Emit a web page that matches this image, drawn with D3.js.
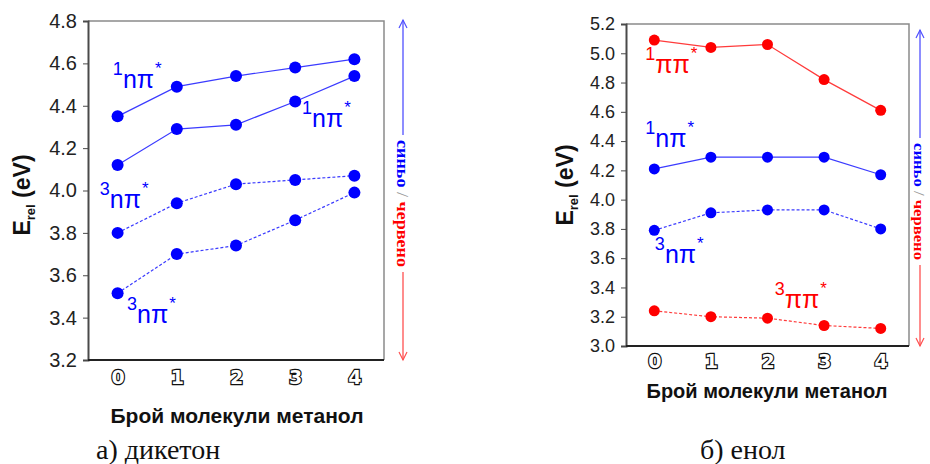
<!DOCTYPE html>
<html>
<head>
<meta charset="utf-8">
<script src="https://cdn.jsdelivr.net/npm/d3@7/dist/d3.min.js"></script>
<style>
  body { margin: 0; background: #fff; }
  svg { display: block; }
</style>
</head>
<body>
<svg id="chart" width="930" height="464"></svg>
<script>
// --- data ---
const molecules = [0, 1, 2, 3, 4];

// а) дикетон
const diketoneTicks = [3.2, 3.4, 3.6, 3.8, 4.0, 4.2, 4.4, 4.6, 4.8];
const diketoneS1upper = [4.35, 4.49, 4.54, 4.58, 4.62];
const diketoneS1lower = [4.12, 4.29, 4.31, 4.42, 4.54];
const diketoneT1upper = [3.80, 3.94, 4.03, 4.05, 4.07];
const diketoneT1lower = [3.515, 3.70, 3.74, 3.86, 3.99];

// б) енол
const enolTicks = [3.0, 3.2, 3.4, 3.6, 3.8, 4.0, 4.2, 4.4, 4.6, 4.8, 5.0, 5.2];
const enolS1pp = [5.09, 5.04, 5.06, 4.82, 4.61];
const enolS1np = [4.21, 4.29, 4.29, 4.29, 4.17];
const enolT1np = [3.79, 3.91, 3.93, 3.93, 3.80];
const enolT1pp = [3.24, 3.20, 3.19, 3.14, 3.12];

const xTitle = "Брой молекули метанол";

const BLUE = "#0000ff", BLUE_LINE = "#3b3bff";
const RED = "#ff0000", RED_LINE = "#ff3b3b";

const svg = d3.select("#chart");

function drawPanel(p) {
  const g = svg.append("g");
  const x = d3.scaleLinear().domain([-0.5, 4.5]).range([p.left, p.right]);
  const y = d3.scaleLinear().domain(p.domain).range([p.bottom, p.top]);

  // frame (top / right in light gray)
  g.append("path")
    .attr("d", `M${p.left},${p.top}H${p.right}V${p.bottom}`)
    .attr("fill", "none")
    .attr("stroke", "#8a8a8a")
    .attr("stroke-width", 1.5);

  // y axis
  const yAxis = d3.axisLeft(y)
    .tickValues(p.ticks)
    .tickSize(5)
    .tickPadding(6)
    .tickFormat(d3.format(".1f"));
  const ya = g.append("g")
    .attr("transform", `translate(${p.left},0)`)
    .call(yAxis);
  ya.select(".domain").attr("stroke", "#4a4a4a").attr("stroke-width", 2);
  ya.selectAll(".tick line").attr("stroke", "#4a4a4a");
  ya.selectAll(".tick text")
    .attr("font-family", "Arial, 'Liberation Sans', sans-serif")
    .attr("font-size", p.tickSize)
    .attr("fill", "#222");

  // x axis
  const xAxis = d3.axisBottom(x).tickValues(molecules).tickSize(0).tickPadding(p.xPad)
    .tickFormat(d3.format("d"));
  const xa = g.append("g")
    .attr("transform", `translate(0,${p.bottom})`)
    .call(xAxis);
  xa.select(".domain").attr("stroke", "#222").attr("stroke-width", 2)
    .attr("d", `M${p.left},0H${p.right}`);
  xa.selectAll(".tick text")
    .attr("font-family", "'DejaVu Sans', sans-serif")
    .attr("font-weight", "bold")
    .attr("font-size", 19)
    .attr("fill", "#fff")
    .attr("stroke", "#111")
    .attr("stroke-width", 2.4)
    .attr("paint-order", "stroke");

  // series
  const line = d3.line().x((d, i) => x(molecules[i])).y(d => y(d));
  p.series.forEach(s => {
    g.append("path")
      .datum(s.values)
      .attr("d", line)
      .attr("fill", "none")
      .attr("stroke", s.lineColor)
      .attr("stroke-width", 1.2)
      .attr("stroke-dasharray", s.dashed ? "3,2" : null);
    g.selectAll(null)
      .data(s.values)
      .join("circle")
      .attr("cx", (d, i) => x(molecules[i]))
      .attr("cy", d => y(d))
      .attr("r", p.r)
      .attr("fill", s.color);
  });

  // state labels
  p.labels.forEach(l => {
    const t = g.append("text")
      .attr("x", x(l.x))
      .attr("y", y(l.y))
      .attr("fill", l.color)
      .attr("font-family", "Arial, 'Liberation Sans', sans-serif");
    t.append("tspan").attr("font-size", 18).attr("dy", -13).text(l.mult);
    t.append("tspan").attr("font-size", 25).attr("dy", 13).text(l.orb);
    t.append("tspan").attr("font-size", 17).attr("dy", -14).attr("dx", 1).text("*");
  });

  // y axis title
  const yt = g.append("text")
    .attr("transform", `translate(${p.yTitleX},${p.yTitleY}) rotate(-90)`)
    .attr("text-anchor", "middle")
    .attr("font-family", "Arial, 'Liberation Sans', sans-serif")
    .attr("font-weight", "bold")
    .attr("font-size", 23)
    .attr("fill", "#111");
  yt.append("tspan").text("E");
  yt.append("tspan").attr("font-size", 13).attr("dy", 5).text("rel");
  yt.append("tspan").attr("dy", -5).text(" (eV)");

  // x axis title
  g.append("text")
    .attr("x", p.xTitleX)
    .attr("y", p.xTitleY)
    .attr("text-anchor", "middle")
    .attr("font-family", "Arial, 'Liberation Sans', sans-serif")
    .attr("font-weight", "bold")
    .attr("font-size", p.xTitleSize)
    .attr("fill", "#111")
    .text(xTitle);

  // caption
  g.append("text")
    .attr("x", p.captionX)
    .attr("y", 459)
    .attr("font-family", "'Liberation Serif', 'Times New Roman', serif")
    .attr("font-size", 28)
    .attr("fill", "#111")
    .text(p.caption);

  // colour arrow: blue up / red down
  const ax = p.arrowX;
  g.append("line").attr("x1", ax).attr("x2", ax)
    .attr("y1", p.arrowTop).attr("y2", p.textTop - 5)
    .attr("stroke", "#5050ff").attr("stroke-width", 1.3);
  g.append("path")
    .attr("d", `M${ax - 4},${p.arrowTop + 8}L${ax},${p.arrowTop}L${ax + 4},${p.arrowTop + 8}`)
    .attr("fill", "none").attr("stroke", "#5050ff").attr("stroke-width", 1.2);
  g.append("line").attr("x1", ax).attr("x2", ax)
    .attr("y1", p.textBottom + 5).attr("y2", p.arrowBottom)
    .attr("stroke", "#ff5050").attr("stroke-width", 1.3);
  g.append("path")
    .attr("d", `M${ax - 4},${p.arrowBottom - 8}L${ax},${p.arrowBottom}L${ax + 4},${p.arrowBottom - 8}`)
    .attr("fill", "none").attr("stroke", "#ff5050").attr("stroke-width", 1.2);

  const at = g.append("text")
    .attr("transform", `translate(${ax - 6},${(p.textTop + p.textBottom) / 2}) rotate(90)`)
    .attr("text-anchor", "middle")
    .attr("font-family", "'Liberation Serif', 'Times New Roman', serif")
    .attr("font-weight", "bold")
    .attr("font-size", p.arrowFont)
    .attr("textLength", p.textBottom - p.textTop)
    .attr("lengthAdjust", "spacingAndGlyphs");
  at.append("tspan").attr("fill", "#0000ff").text("синьо ");
  at.append("tspan").attr("fill", "#999").attr("font-weight", "normal").text("/");
  at.append("tspan").attr("fill", "#ff0000").text(" червено");
}

drawPanel({
  left: 88, right: 384, top: 21, bottom: 360,
  domain: [3.2, 4.8], ticks: diketoneTicks, tickSize: 20, r: 6, xPad: 11,
  series: [
    { values: diketoneS1upper, color: BLUE, lineColor: BLUE_LINE, dashed: false },
    { values: diketoneS1lower, color: BLUE, lineColor: BLUE_LINE, dashed: false },
    { values: diketoneT1upper, color: BLUE, lineColor: BLUE_LINE, dashed: true },
    { values: diketoneT1lower, color: BLUE, lineColor: BLUE_LINE, dashed: true }
  ],
  labels: [
    { x: -0.08, y: 4.484, mult: "1", orb: "nπ", color: BLUE },
    { x: 3.115, y: 4.30, mult: "1", orb: "nπ", color: BLUE },
    { x: -0.30, y: 3.917, mult: "3", orb: "nπ", color: BLUE },
    { x: 0.16, y: 3.375, mult: "3", orb: "nπ", color: BLUE }
  ],
  yTitleX: 30, yTitleY: 195,
  xTitleX: 237, xTitleY: 423, xTitleSize: 21,
  caption: "а) дикетон", captionX: 96,
  arrowX: 403, arrowTop: 20, arrowBottom: 360, textTop: 140, textBottom: 267, arrowFont: 17
});

drawPanel({
  left: 626, right: 909, top: 24, bottom: 346,
  domain: [3.0, 5.2], ticks: enolTicks, tickSize: 18, r: 5.5, xPad: 9,
  series: [
    { values: enolS1pp, color: RED, lineColor: RED_LINE, dashed: false },
    { values: enolS1np, color: BLUE, lineColor: BLUE_LINE, dashed: false },
    { values: enolT1np, color: BLUE, lineColor: BLUE_LINE, dashed: true },
    { values: enolT1pp, color: RED, lineColor: RED_LINE, dashed: true }
  ],
  labels: [
    { x: -0.16, y: 4.865, mult: "1", orb: "ππ", color: RED },
    { x: -0.16, y: 4.36, mult: "1", orb: "nπ", color: BLUE },
    { x: 0.01, y: 3.567, mult: "3", orb: "nπ", color: BLUE },
    { x: 2.13, y: 3.26, mult: "3", orb: "ππ", color: RED }
  ],
  yTitleX: 573, yTitleY: 185,
  xTitleX: 767, xTitleY: 398, xTitleSize: 20,
  caption: "б) енол", captionX: 700,
  arrowX: 920, arrowTop: 30, arrowBottom: 346, textTop: 143, textBottom: 260, arrowFont: 15
});
</script>
</body>
</html>
